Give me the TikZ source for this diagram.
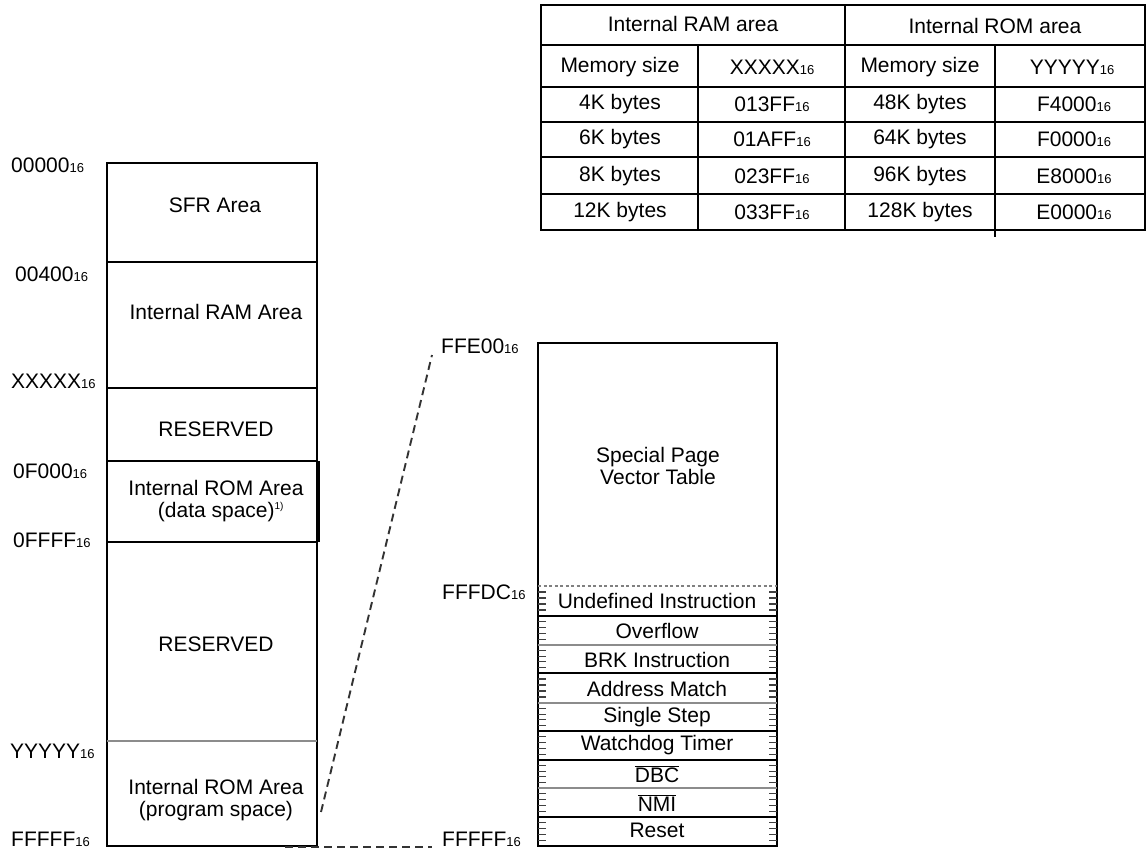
\documentclass[tikz,border=0pt]{standalone}
\usepackage{fontspec}
\setmainfont{Liberation Sans}
\newcommand\hexsub[1]{#1{\fontsize{13}{13}\selectfont 16}}
\tikzset{
  txt/.style={inner sep=0pt, font=\fontsize{21}{25}\selectfont, text=black},
  addr/.style={txt, anchor=west},
  area/.style={txt, align=center},
  rule/.style={line width=1.6pt, black},
  softrule/.style={line width=1.8pt, black!45},
  tickmark/.style={line width=1.2pt, black!75},
  link/.style={line width=1.9pt, dash pattern=on 8pt off 5pt, black!80},
  dotrule/.style={line width=1.8pt, black!50, dash pattern=on 3pt off 2.5pt}
}
\begin{document}
\begin{tikzpicture}[x=1pt,y=-1pt]
\useasboundingbox (0,0) rectangle (1147,852);

% ---------- memory map ----------
\draw[rule] (107,163) rectangle (317,846);
\draw[rule] (107,262) -- (317,262);
\draw[rule] (107,388) -- (317,388);
\draw[rule] (107,461) -- (317,461);
\draw[rule] (107,542) -- (317,542);
\draw[softrule] (107,741) -- (317,741);
\draw[line width=2.6pt] (318.5,461) -- (318.5,542);

\node[area] (sfr) at (215,205) {SFR Area};
\node[area] (ram) at (216,312) {Internal RAM Area};
\node[area] (resA) at (216,429) {RESERVED};
\node[area] (romdata) at (216,501) {Internal ROM Area\\[-3pt]\hspace*{10pt}(data space)\textsuperscript{\fontsize{10}{10}\selectfont 1)}};
\node[area] (resB) at (216,644) {RESERVED};
\node[area] (romprog) at (216,800) {Internal ROM Area\\[-3pt](program space)};

\node[addr] (a0) at (11,165) {\hexsub{00000}};
\node[addr] (a1) at (15,274) {\hexsub{00400}};
\node[addr] (a2) at (11,381) {\hexsub{XXXXX}};
\node[addr] (a3) at (13,471) {\hexsub{0F000}};
\node[addr] (a4) at (13,540) {\hexsub{0FFFF}};
\node[addr] (a5) at (10,751) {\hexsub{YYYYY}};
\node[addr] (a6) at (11,839) {\hexsub{FFFFF}};

% ---------- special page vector table ----------
\draw[rule] (538,343) rectangle (777,846);
\draw[dotrule] (538,586) -- (777,586);
\foreach \yy/\cc in {616/rule, 645/softrule, 673/rule, 703/softrule, 731/rule, 760/rule, 788/softrule, 817/rule}
  \draw[\cc] (538,\yy) -- (777,\yy);
\foreach \t/\b in {586/616, 616/645, 645/673, 673/703, 703/731, 731/760, 760/788, 788/817, 817/846}
  \foreach \k in {1,2,3,4} {
    \draw[tickmark] (538,{\t+(\b-\t)*\k/5}) -- ++(8,0);
    \draw[tickmark] (777,{\t+(\b-\t)*\k/5}) -- ++(-8,0);
  }

\node[area] (spvt) at (658,466) {Special Page\\[-3pt]Vector Table};
\node[area] (v1) at (657,601) {Undefined Instruction};
\node[area] (v2) at (657,631) {Overflow};
\node[area] (v3) at (657,660) {BRK Instruction};
\node[area] (v4) at (657,689) {Address Match};
\node[area] (v5) at (657,717) {Single Step};
\node[area] (v6) at (657,745) {Watchdog Timer};
\node[area] (v7) at (657,774) {$\overline{\mbox{DBC}}$};
\node[area] (v8) at (657,803) {$\overline{\mbox{NMI}}$};
\node[area] (v9) at (657,830) {Reset};

\node[addr] (b0) at (441,346) {\hexsub{FFE00}};
\node[addr] (b1) at (442,592) {\hexsub{FFFDC}};
\node[addr] (b2) at (442,839) {\hexsub{FFFFF}};

% ---------- zoom lines ----------
\coordinate (progEdge) at (321,812);
\coordinate (vecTop) at (432,355);
\coordinate (progBot) at (285,847);
\coordinate (vecBot) at (432,847);
\draw[link] (progEdge) -- (vecTop);
\draw[link] (progBot) -- (vecBot);

% ---------- size table ----------
\draw[rule] (541,5) rectangle (1145,230);
\foreach \yy in {45,87,122,157,194}
  \draw[rule] (541,\yy) -- (1145,\yy);
\draw[rule] (845,5) -- (845,230);
\draw[rule] (698,45) -- (698,230);
\draw[rule] (995,45) -- (995,237);

\node[area] (hRam) at (693,24) {Internal RAM area};
\node[area] (hRom) at (995,26) {Internal ROM area};
\node[area] (c1) at (620,67) {Memory size};
\node[area] (c2) at (772,67) {\hexsub{XXXXX}};
\node[area] (c3) at (920,67) {Memory size};
\node[area] (c4) at (1072,67) {\hexsub{YYYYY}};
\foreach \yy/\ra/\rb/\rc/\rd in {104/4K bytes/013FF/48K bytes/F4000,
                                  139/6K bytes/01AFF/64K bytes/F0000,
                                  176/8K bytes/023FF/96K bytes/E8000,
                                  212/12K bytes/033FF/128K bytes/E0000} {
  \node[area] (r\yy a) at (620,\yy) {\ra};
  \node[area] (r\yy b) at (772,\yy) {\hexsub{\rb}};
  \node[area] (r\yy c) at (920,\yy) {\rc};
  \node[area] (r\yy d) at (1074,\yy) {\hexsub{\rd}};
}
\end{tikzpicture}
\end{document}
